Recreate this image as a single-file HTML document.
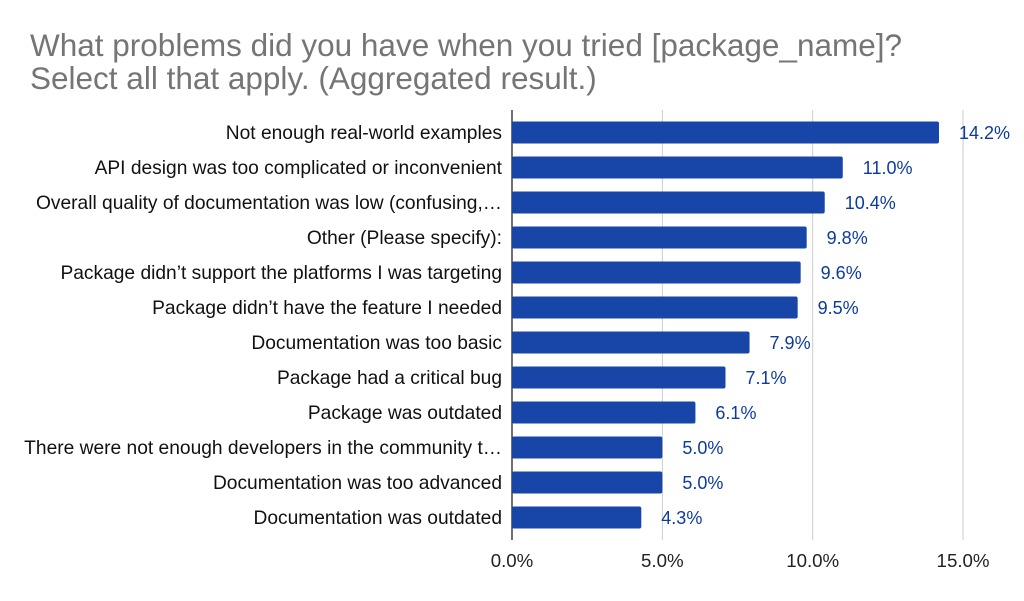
<!DOCTYPE html>
<html><head><meta charset="utf-8"><style>
body{margin:0;background:#fff;font-family:"Liberation Sans",Arial,sans-serif}
svg{display:block}
</style></head><body>
<svg width="1024" height="601" viewBox="0 0 1024 601">
<text x="30" y="56" font-size="31.5" fill="#757575">What problems did you have when you tried [package_name]?</text>
<text x="30" y="89" font-size="31.5" fill="#757575">Select all that apply. (Aggregated result.)</text>
<g id="grid"></g><g id="bars"></g><g id="labels"></g>
</svg>
<script>
const categories=["Not enough real-world examples","API design was too complicated or inconvenient","Overall quality of documentation was low (confusing,…","Other (Please specify):","Package didn’t support the platforms I was targeting","Package didn’t have the feature I needed","Documentation was too basic","Package had a critical bug","Package was outdated","There were not enough developers in the community t…","Documentation was too advanced","Documentation was outdated"];
const values=[14.2,11.0,10.4,9.8,9.6,9.5,7.9,7.1,6.1,5.0,5.0,4.3];
const ticks=[0,5,10,15];
const tickLabels=["0.0%","5.0%","10.0%","15.0%"];
const NS="http://www.w3.org/2000/svg";
const x0=512,pxPer=30.07,barTop=115,step=35,barH=22;
const xs=v=>x0+v*pxPer;
const ys=i=>barTop+i*step+(step-barH)/2;
function mk(tag,attrs,parent,txt){const e=document.createElementNS(NS,tag);for(const k in attrs)e.setAttribute(k,attrs[k]);if(txt!==undefined)e.textContent=txt;document.getElementById(parent).appendChild(e);return e;}
ticks.forEach((t,i)=>{
 if(t>0){const g=mk('line',{x1:xs(t),x2:xs(t),y1:110,y2:540,stroke:'#cccccc','stroke-width':1},'grid');
 
 }
 const l=mk('text',{x:xs(t),y:567,'font-size':18.7,fill:'#222','text-anchor':'middle'},'labels',tickLabels[i]);
 
 
});
categories.forEach((c,i)=>{
 const y=ys(i);
 const r=mk('rect',{x:x0,y:y,width:xs(values[i])-x0,height:barH,rx:2,fill:'#1846a8'},'bars');
 
 
 const t=mk('text',{x:502,y:y+barH/2+6.5,'font-size':19.2,fill:'#111','text-anchor':'end'},'labels',c);
 
 
 const v=mk('text',{x:xs(values[i])+20,y:y+barH/2+6.5,'font-size':18,fill:'#0d3aa0'},'labels',values[i].toFixed(1)+'%');
 
 
});
const ax=mk('line',{x1:x0,x2:x0,y1:110,y2:540,stroke:'#222','stroke-width':1.3},'grid');


</script>
</body></html>
